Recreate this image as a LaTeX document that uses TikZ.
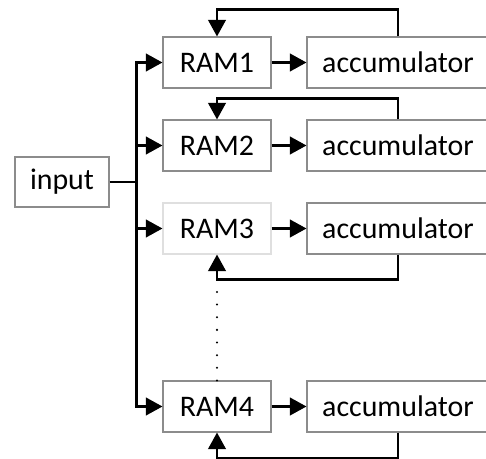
\documentclass[tikz,border=0pt]{standalone}
\usepackage{fontspec}
\setmainfont{Carlito}
\usetikzlibrary{arrows.meta}

\begin{document}
\begin{tikzpicture}[x=0.02cm, y=-0.02cm,
		box/.style={draw=gray!90, line width=0.6pt, inner sep=0pt, minimum height=1.02cm, font=\fontsize{17}{20}\selectfont},
		rambox/.style={box, minimum width=2.16cm},
		accbox/.style={box, minimum width=3.64cm},
		conn/.style={line width=1.5pt},
		arr/.style={conn, -{Triangle[length=9.5pt, width=10pt]}}]

		\clip(0, 0) rectangle (486, 459);

		\node[box, minimum width=1.88cm, minimum height=1cm] (input) at(62, 182){input};

		\node[rambox] (ram1) at(217, 62.5){RAM1};
		\node[rambox] (ram2) at(217, 145.5){RAM2};
		\node[rambox, draw=gray!25] (ram3) at(217, 228.5){RAM3};
		\node[rambox] (ram4) at(217, 406.5){RAM4};

		\node[accbox] (acc1) at(398, 62.5){accumulator};
		\node[accbox] (acc2) at(398, 145.5){accumulator};
		\node[accbox] (acc3) at(398, 228.5){accumulator};
		\node[accbox] (acc4) at(398, 406.5){accumulator};

		\draw[conn](input.east) -- ++(27, 0) coordinate (fork);
		\draw[arr](fork) |- (ram1.west);
		\draw[arr](fork) |- (ram2.west);
		\draw[arr](fork) |- (ram3.west);
		\draw[arr](fork) |- (ram4.west);

		\draw[arr](ram1.east) -- (acc1.west);
		\draw[arr](ram2.east) -- (acc2.west);
		\draw[arr](ram3.east) -- (acc3.west);
		\draw[arr](ram4.east) -- (acc4.west);

		\draw[arr](acc1.north) -- ++(0, -27) -| (ram1.north);
		\draw[arr](acc2.north) -- ++(0, -21) -| (ram2.north);
		\draw[arr](acc3.south) -- ++(0, 25) -| (ram3.south);
		\draw[arr](acc4.south) -- ++(0, 26) -| (ram4.south);

		\draw[line width=1.3pt, line cap=round, dash pattern=on 0pt off 7.2pt](ram4.north) -- ++(0, -90);

	\end{tikzpicture}
\end{document}
